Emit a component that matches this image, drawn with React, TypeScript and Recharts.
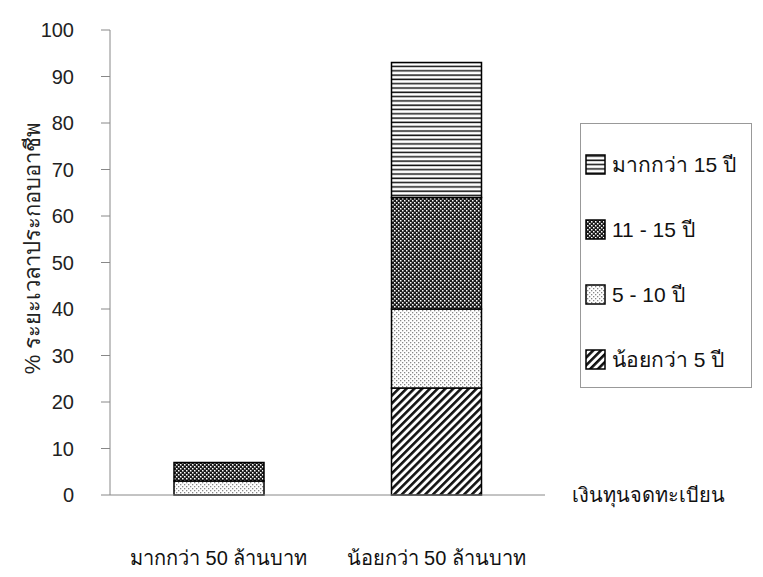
import React from "react";
import { BarChart, Bar, XAxis, YAxis, Label } from "recharts";

const categories = ["มากกว่า 50 ล้านบาท", "น้อยกว่า 50 ล้านบาท"];
const lessThan5 = [0, 23];
const from5to10 = [3, 17];
const from11to15 = [4, 24];
const over15 = [0, 29];
const yTicks = [0, 10, 20, 30, 40, 50, 60, 70, 80, 90, 100];

const seriesNames = {
  lessThan5: "น้อยกว่า 5 ปี",
  from5to10: "5 - 10 ปี",
  from11to15: "11 - 15 ปี",
  over15: "มากกว่า 15 ปี",
};

const rows = categories.map((c, i) => ({
  category: c,
  lessThan5: lessThan5[i],
  from5to10: from5to10[i],
  from11to15: from11to15[i],
  over15: over15[i],
}));

const FONT = "'Liberation Sans', Arial, 'Noto Sans', sans-serif";

function Patterns() {
  return (
    <svg width="0" height="0" style={{ position: "absolute" }}>
      <defs>
        <pattern id="pHoriz" patternUnits="userSpaceOnUse" width="8" height="4.3">
          <rect width="8" height="4.3" fill="#fff" />
          <line x1="0" y1="2" x2="8" y2="2" stroke="#111" strokeWidth="1.5" />
        </pattern>
        <pattern id="pDark" patternUnits="userSpaceOnUse" width="4" height="4">
          <rect width="4" height="4" fill="#1a1a1a" />
          <rect x="0" y="0" width="1.5" height="1.5" fill="#fff" />
          <rect x="2" y="2" width="1.5" height="1.5" fill="#fff" />
        </pattern>
        <pattern id="pLight" patternUnits="userSpaceOnUse" width="4" height="4">
          <rect width="4" height="4" fill="#fff" />
          <rect x="0" y="0" width="1.3" height="1.3" fill="#888" />
          <rect x="2" y="2" width="1.3" height="1.3" fill="#888" />
        </pattern>
        <pattern id="pDiag" patternUnits="userSpaceOnUse" width="5.5" height="5.5" patternTransform="rotate(45)">
          <rect width="5.5" height="5.5" fill="#fff" />
          <rect x="0" y="0" width="2.6" height="5.5" fill="#111" />
        </pattern>
      </defs>
    </svg>
  );
}

const legendItems = [
  { key: "over15", fill: "url(#pHoriz)" },
  { key: "from11to15", fill: "url(#pDark)" },
  { key: "from5to10", fill: "url(#pLight)" },
  { key: "lessThan5", fill: "url(#pDiag)" },
];

function LegendBox() {
  return (
    <div
      style={{
        position: "absolute",
        left: 580,
        top: 123,
        border: "1px solid #999",
        width: 172,
        height: 265,
        boxSizing: "border-box",
        padding: "8px 0 0 4px",
        fontFamily: FONT,
        fontSize: 21,
        color: "#111",
      }}
    >
      {legendItems.map((it) => (
        <div key={it.key} style={{ display: "flex", alignItems: "center", height: 65 }}>
          <svg width="21" height="21" style={{ marginRight: 6 }}>
            <rect x="1" y="1" width="19" height="19" fill={it.fill} stroke="#000" strokeWidth="1.5" />
          </svg>
          <span>{seriesNames[it.key]}</span>
        </div>
      ))}
    </div>
  );
}

function XTick(props: any) {
  const { x, y, payload } = props;
  return (
    <text x={x} y={y + 62} textAnchor="middle" fontFamily={FONT} fontSize={20} fill="#111">
      {payload.value}
    </text>
  );
}

export default function App() {
  return (
    <div style={{ position: "absolute", left: 0, top: 0, width: 763, height: 577, background: "#fff" }}>
      <Patterns />
      <BarChart width={763} height={577} data={rows} margin={{ top: 30, right: 218, left: 0, bottom: 22 }} barSize={90}>
        <XAxis
          dataKey="category"
          height={60}
          tickLine={false}
          axisLine={{ stroke: "#888" }}
          tick={<XTick />}
          interval={0}
        >
          <Label
            content={(p: any) => (
              <text
                x={p.viewBox.x + p.viewBox.width + 27}
                y={p.viewBox.y + 7}
                fontFamily={FONT}
                fontSize={20}
                fill="#111"
              >
                เงินทุนจดทะเบียน
              </text>
            )}
          />
        </XAxis>
        <YAxis
          width={110}
          domain={[0, 100]}
          ticks={yTicks}
          interval={0}
          axisLine={{ stroke: "#888" }}
          tickLine={{ stroke: "#888" }}
          tickSize={9}
          tickMargin={27}
          tick={{ fontFamily: FONT, fontSize: 20, fill: "#222" }}
        >
          <Label
            content={() => (
              <text
                x={0}
                y={0}
                transform="translate(40,248) rotate(-90)"
                textAnchor="middle"
                fontFamily={FONT}
                fontSize={22}
                fill="#222"
              >
                % ระยะเวลาประกอบอาชีพ
              </text>
            )}
          />
        </YAxis>
        <Bar dataKey="lessThan5" name={seriesNames.lessThan5} stackId="a" fill="url(#pDiag)" stroke="#000" strokeWidth={1.5} isAnimationActive={false} />
        <Bar dataKey="from5to10" name={seriesNames.from5to10} stackId="a" fill="url(#pLight)" stroke="#000" strokeWidth={1.5} isAnimationActive={false} />
        <Bar dataKey="from11to15" name={seriesNames.from11to15} stackId="a" fill="url(#pDark)" stroke="#000" strokeWidth={1.5} isAnimationActive={false} />
        <Bar dataKey="over15" name={seriesNames.over15} stackId="a" fill="url(#pHoriz)" stroke="#000" strokeWidth={1.5} isAnimationActive={false} />
      </BarChart>
      <LegendBox />
    </div>
  );
}
